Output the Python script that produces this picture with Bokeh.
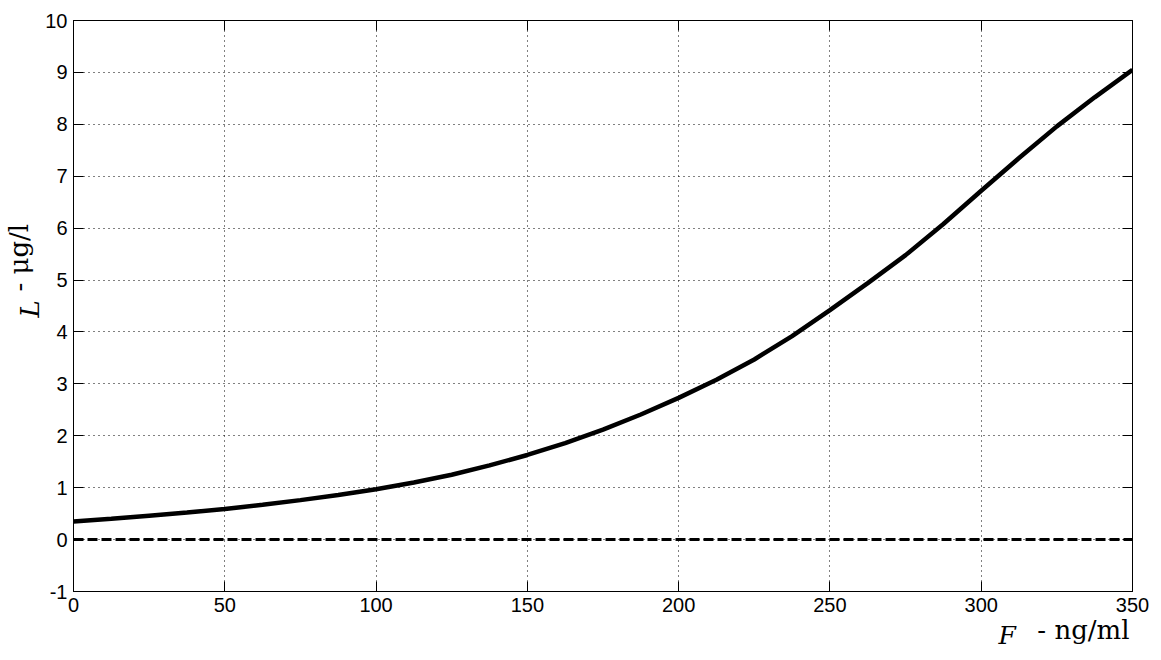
import math
from bokeh.plotting import figure
from bokeh.models import (Range1d, FixedTicker, LinearAxis, Label)
from bokeh.embed import file_html
from bokeh.resources import INLINE

# ---- data ----
F_values = [0, 12.5, 25, 37.5, 50, 62.5, 75, 87.5, 100, 112.5, 125, 137.5, 150, 162.5, 175,
            187.5, 200, 212.5, 225, 237.5, 250, 262.5, 275, 287.5, 300, 312.5, 325, 337.5, 350]
L_values = [0.35, 0.40, 0.46, 0.52, 0.59, 0.67, 0.76, 0.86, 0.97, 1.10, 1.25, 1.43, 1.63, 1.86, 2.12,
            2.41, 2.73, 3.08, 3.47, 3.92, 4.42, 4.94, 5.48, 6.08, 6.72, 7.35, 7.96, 8.52, 9.05]
zero_x = [0, 350]
zero_y = [0, 0]
x_ticks = [0, 50, 100, 150, 200, 250, 300, 350]
y_ticks = [-1, 0, 1, 2, 3, 4, 5, 6, 7, 8, 9, 10]
x_label_var = "F"
x_label_unit = "- ng/ml"
y_label_var = "L"
y_label_unit = "- \u03bcg/l"

W, H = 1161, 660
FL, FR, FT, FB = 73, 1132, 20, 591

p = figure(width=W, height=H, output_backend="svg", toolbar_location=None,
           x_range=Range1d(0, 350), y_range=Range1d(-1, 10),
           min_border_left=FL, min_border_right=W - FR,
           min_border_top=FT, min_border_bottom=H - FB,
           background_fill_color="white", border_fill_color="white")
p.outline_line_color = "black"
p.outline_line_width = 1

tick_font = "Liberation Sans"
for ax, ticks in ((p.xaxis[0], x_ticks), (p.yaxis[0], y_ticks)):
    ax.ticker = FixedTicker(ticks=ticks)
    ax.major_tick_in = 10
    ax.major_tick_out = 0
    ax.minor_tick_line_color = None
    ax.axis_line_color = "black"
    ax.major_tick_line_color = "black"
    ax.major_label_text_font = tick_font
    ax.major_label_text_font_size = "20px"
    ax.major_label_text_color = "black"
p.xaxis[0].major_label_standoff = 6
p.yaxis[0].major_label_standoff = 6
p.yaxis[0].major_label_overrides = {-1: "-1"}

for side, ticks in (("above", x_ticks), ("right", y_ticks)):
    ax = LinearAxis(ticker=FixedTicker(ticks=ticks))
    ax.major_tick_in = 10
    ax.major_tick_out = 0
    ax.minor_tick_line_color = None
    ax.axis_line_color = "black"
    ax.major_tick_line_color = "black"
    ax.major_label_text_font_size = "0px"
    ax.major_label_text_color = None
    ax.major_label_standoff = 0
    p.add_layout(ax, side)

for g, ticks in ((p.xgrid[0], x_ticks), (p.ygrid[0], y_ticks)):
    g.ticker = FixedTicker(ticks=ticks)
    g.grid_line_color = "black"
    g.grid_line_dash = "1 4"
    g.grid_line_width = 1
    g.grid_line_alpha = 1.0

p.line(zero_x, zero_y, line_color="black", line_width=3, line_dash="10 4")
p.line(F_values, L_values, line_color="black", line_width=4.5)

serif = "DejaVu Serif"
# axis-title pieces placed in side panels (side-panel annotations are not clipped to the frame)
p.add_layout(Label(x=1056, y=15, x_units="screen", y_units="screen",
                   text=x_label_unit, text_font=serif, text_font_size="26px",
                   text_align="right", text_baseline="alphabetic", text_color="black"), "below")
p.add_layout(Label(x=-134, y=-44, x_units="screen", y_units="screen",
                   text=x_label_var, text_font=serif, text_font_style="italic",
                   text_font_size="25px", text_align="left", text_baseline="alphabetic",
                   text_color="black"), "right")
p.add_layout(Label(x=-44, y=-297, x_units="screen", y_units="screen", angle=math.pi / 2,
                   text=y_label_var, text_font=serif, text_font_style="italic",
                   text_font_size="26px", text_align="left", text_baseline="alphabetic",
                   text_color="black"), "above")
p.add_layout(Label(x=6, y=300, x_units="screen", y_units="screen", angle=math.pi / 2,
                   text=y_label_unit, text_font=serif, text_font_size="26px",
                   text_align="left", text_baseline="alphabetic", text_color="black"), "left")

open("out.html", "w").write(file_html(p, INLINE))
